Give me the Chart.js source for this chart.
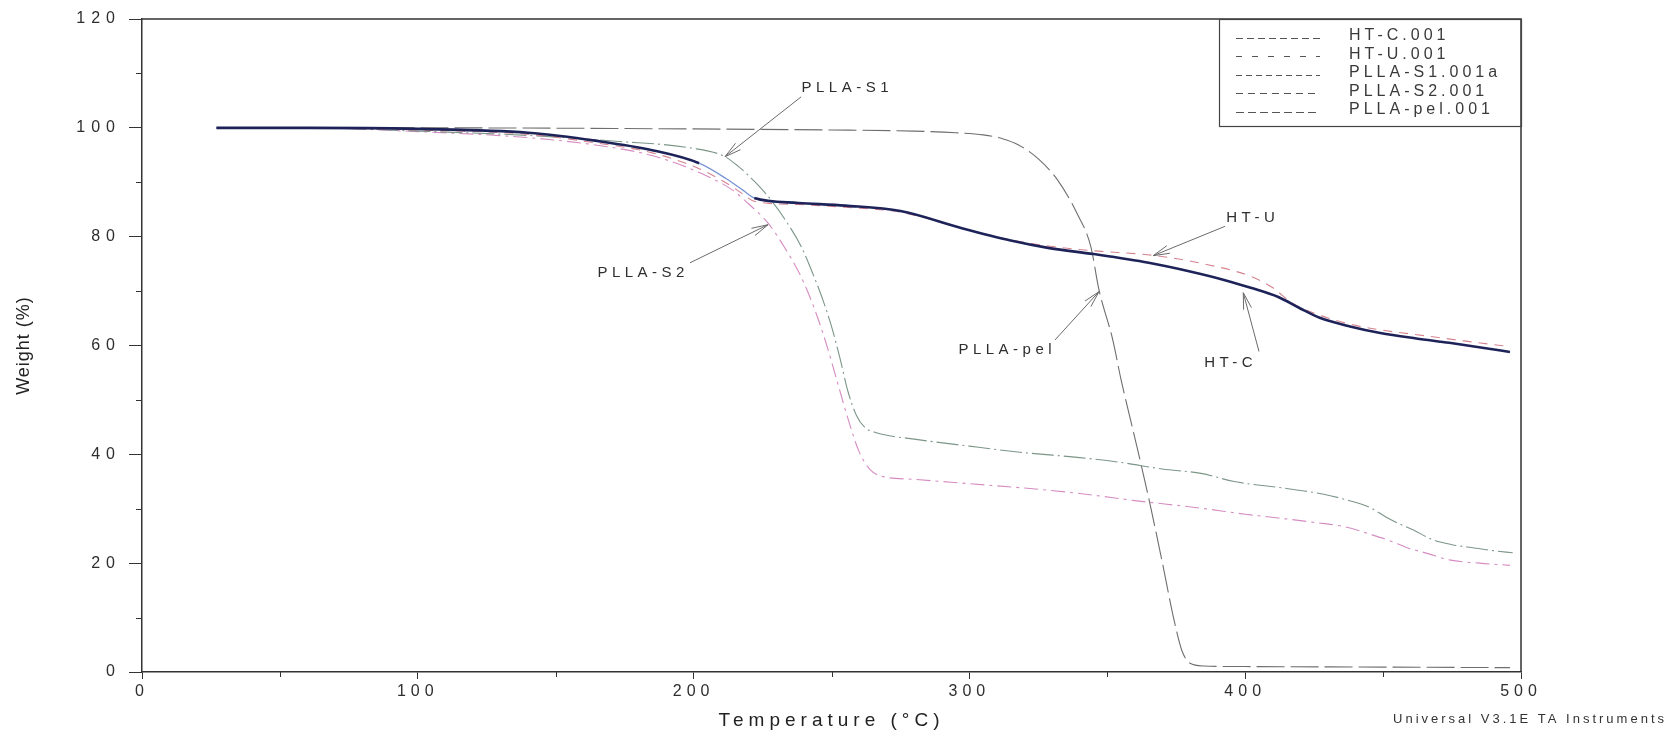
<!DOCTYPE html>
<html>
<head>
<meta charset="utf-8">
<script src="https://cdn.jsdelivr.net/npm/chart.js@4.4.1/dist/chart.umd.min.js"></script>
<style>
  html, body { margin: 0; padding: 0; background: #ffffff; }
  #wrap { width: 1671px; height: 738px; }
</style>
</head>
<body>
<div id="wrap"><canvas id="tga" width="1671" height="738"></canvas></div>
<script>
// TGA weight-loss curves, weight (%) against temperature (°C)
const seriesLabels = ['HT-C.001', 'HT-U.001', 'PLLA-S1.001a', 'PLLA-S2.001', 'PLLA-pel.001'];

const htcTemp   = [27, 60, 100, 140, 165, 185, 202, 212, 218, 222, 238, 255, 275, 297, 315, 329, 345, 365, 380, 392, 402, 412, 420, 427, 438, 449, 462, 474, 486, 496];
const htcWeight = [100, 100, 99.8, 99.1, 97.6, 95.9, 93.5, 90.6, 88.5, 87.1, 86.2, 85.7, 84.7, 81.6, 79.3, 77.9, 76.8, 75.2, 73.6, 72.1, 70.6, 68.9, 66.8, 65.1, 63.5, 62.3, 61.3, 60.5, 59.6, 58.8];

const htuTemp   = [27, 60, 100, 140, 165, 185, 202, 212, 218, 222, 238, 255, 275, 297, 315, 330, 345, 366, 385, 402, 410, 417, 428, 440, 450, 465, 480, 496];
const htuWeight = [100, 100, 99.6, 98.8, 97.2, 95.4, 92.5, 89.8, 87.8, 86.5, 85.9, 85.4, 84.5, 81.6, 79.4, 78.2, 77.4, 76.6, 75.0, 72.7, 70.6, 67.8, 65.4, 63.7, 62.8, 61.8, 60.8, 59.8];

const s1Temp   = [27, 60, 100, 140, 173, 199, 211, 216, 222, 228, 234, 239, 243, 247, 250, 253, 256, 259, 262, 266, 280, 300, 320, 340, 355, 370, 384, 396, 414, 428, 437, 445, 451, 456, 461, 468, 475, 483, 490, 497];
const s1Weight = [100, 100, 99.4, 98.6, 97.5, 96.3, 94.8, 93.0, 90.2, 86.8, 82.5, 78.2, 73.5, 68.2, 63.5, 57.8, 51.5, 47.2, 45.0, 44.0, 42.8, 41.5, 40.3, 39.4, 38.5, 37.3, 36.5, 35.0, 33.8, 32.7, 31.6, 30.3, 28.5, 27.2, 26.1, 24.3, 23.4, 22.8, 22.3, 21.9];

const s2Temp   = [27, 60, 100, 140, 165, 185, 202, 214, 220, 227, 233, 239, 244, 248, 252, 256, 260, 264, 268, 280, 300, 320, 340, 360, 384, 400, 412, 425, 436, 446, 452, 459, 466, 474, 485, 496];
const s2Weight = [100, 100, 99.3, 98.2, 96.8, 94.9, 91.8, 88.6, 86.0, 82.5, 78.0, 72.6, 66.5, 60.5, 53.5, 46.5, 40.5, 37.2, 36.0, 35.4, 34.6, 33.8, 32.8, 31.5, 30.1, 29.0, 28.3, 27.5, 26.7, 25.2, 24.2, 22.8, 21.8, 20.6, 20.0, 19.6];

const pelTemp   = [27, 100, 200, 250, 280, 295, 305, 312, 318, 325, 332, 339, 344, 347, 352, 355, 360, 365, 370, 374, 377, 380, 385, 400, 450, 496];
const pelWeight = [100, 100, 99.8, 99.6, 99.4, 99.1, 98.7, 98.0, 96.8, 94.3, 90.4, 84.3, 78.2, 70.2, 61.0, 53.7, 43.0, 32.0, 20.0, 10.0, 4.0, 1.6, 1.1, 1.0, 0.9, 0.8];

const xTicks = [0, 100, 200, 300, 400, 500];
const yTicks = [0, 20, 40, 60, 80, 100, 120];

// Curve labels with leader arrows (text anchor, arrow tail, arrow tip), in data units
const callouts = [
  { text: 'PLLA-S1',  at: [255, 107.3], from: [239, 105.7], to: [211.4, 94.7] },
  { text: 'PLLA-S2',  at: [181, 73.3],  from: [198.7, 75.2], to: [227, 82.2] },
  { text: 'HT-U',     at: [402, 83.4],  from: [392.7, 81.9], to: [366.6, 76.5] },
  { text: 'PLLA-pel', at: [313, 59.2],  from: [331, 61.0],   to: [347, 69.9] },
  { text: 'HT-C',     at: [394, 56.9],  from: [405, 58.9],   to: [399.3, 69.7] }
];

const pairs = (t, w) => t.map((v, i) => ({ x: v, y: w[i] }));

const styles = [
  { color: '#1d2358', width: 2.6, dash: [], legendDash: [7, 4] },
  { color: '#d5838f', width: 1.1, dash: [9, 7], legendDash: [6, 10] },
  { color: '#7c9688', width: 1.1, dash: [22, 4, 2, 4], legendDash: [6, 4] },
  { color: '#d68cc2', width: 1.1, dash: [14, 5, 3, 5], legendDash: [7, 5] },
  { color: '#6e6e6e', width: 1.1, dash: [28, 6], legendDash: [8, 4] }
];

const series = [
  pairs(htcTemp, htcWeight),
  pairs(htuTemp, htuWeight),
  pairs(s1Temp, s1Weight),
  pairs(s2Temp, s2Weight),
  pairs(pelTemp, pelWeight)
];

const FONT = "'Liberation Sans', Arial, sans-serif";
const INK = '#2e2e2e';

// letter spacing for the axis texts
const textSpacing = {
  id: 'textSpacing',
  afterLayout(chart) {
    const conf = { x: { labels: '5px', title: '5px' }, y: { labels: '6px', title: '1px' } };
    Object.keys(conf).forEach(id => {
      const s = chart.scales[id];
      if (!s || s.__spaced) return;
      s.__spaced = true;
      const c = conf[id];
      const drawLabels = s.drawLabels.bind(s);
      const drawTitle = s.drawTitle.bind(s);
      s.drawLabels = function (area) {
        const ctx = this.ctx; ctx.save(); ctx.letterSpacing = c.labels; drawLabels(area); ctx.restore();
      };
      s.drawTitle = function (area) {
        const ctx = this.ctx; ctx.save(); ctx.letterSpacing = c.title; drawTitle(area); ctx.restore();
      };
    });
  }
};

// plot frame, minor ticks, legend box, curve callouts and footer
const decorations = {
  id: 'decorations',
  afterDraw(chart) {
    const { ctx, chartArea: a, scales: { x, y } } = chart;
    ctx.save();

    // top and right frame
    ctx.strokeStyle = '#333';
    ctx.lineWidth = 1.5;
    ctx.beginPath();
    ctx.moveTo(a.left, a.top); ctx.lineTo(a.right, a.top); ctx.lineTo(a.right, a.bottom);
    ctx.stroke();

    // minor ticks
    ctx.lineWidth = 1;
    ctx.strokeStyle = '#333';
    ctx.beginPath();
    for (let v = 50; v < 500; v += 100) {
      const px = Math.round(x.getPixelForValue(v)) + 0.5;
      ctx.moveTo(px, a.bottom); ctx.lineTo(px, a.bottom + 5);
    }
    for (let v = 10; v < 120; v += 20) {
      const py = Math.round(y.getPixelForValue(v)) + 0.5;
      ctx.moveTo(a.left, py); ctx.lineTo(a.left - 6, py);
    }
    ctx.stroke();

    // legend box in the top right corner
    const boxW = 302, boxH = 107;
    const bx = a.right - boxW, by = a.top;
    ctx.lineWidth = 1.2;
    ctx.strokeStyle = '#444';
    ctx.strokeRect(bx + 0.5, by + 0.5, boxW, boxH);
    ctx.font = '16px ' + FONT;
    ctx.textBaseline = 'middle';
    ctx.textAlign = 'left';
    ctx.letterSpacing = '4px';
    seriesLabels.forEach((lab, i) => {
      const ry = by + 18.5 + i * 18.6;
      ctx.strokeStyle = '#555';
      ctx.lineWidth = 1;
      ctx.setLineDash(styles[i].legendDash);
      ctx.beginPath();
      ctx.moveTo(bx + 17, Math.round(ry) + 0.5);
      ctx.lineTo(bx + 101, Math.round(ry) + 0.5);
      ctx.stroke();
      ctx.setLineDash([]);
      ctx.fillStyle = '#3a3a3a';
      ctx.fillText(lab, bx + 130, ry - 2);
    });

    // callouts
    ctx.font = '15px ' + FONT;
    ctx.letterSpacing = '4.5px';
    ctx.textAlign = 'center';
    ctx.fillStyle = INK;
    callouts.forEach(c => {
      const tx = x.getPixelForValue(c.at[0]), ty = y.getPixelForValue(c.at[1]);
      ctx.fillText(c.text, tx + 2, ty);
      const x0 = x.getPixelForValue(c.from[0]), y0 = y.getPixelForValue(c.from[1]);
      const x1 = x.getPixelForValue(c.to[0]), y1 = y.getPixelForValue(c.to[1]);
      ctx.strokeStyle = '#6a6a6a';
      ctx.lineWidth = 1;
      ctx.beginPath();
      ctx.moveTo(x0, y0); ctx.lineTo(x1, y1);
      const ang = Math.atan2(y0 - y1, x0 - x1);
      const len = 17, spread = 0.24;
      ctx.moveTo(x1, y1); ctx.lineTo(x1 + len * Math.cos(ang + spread), y1 + len * Math.sin(ang + spread));
      ctx.moveTo(x1, y1); ctx.lineTo(x1 + len * Math.cos(ang - spread), y1 + len * Math.sin(ang - spread));
      ctx.stroke();
    });

    // instrument footer
    ctx.font = '13px ' + FONT;
    ctx.letterSpacing = '3px';
    ctx.textAlign = 'right';
    ctx.fillStyle = '#333';
    ctx.fillText('Universal V3.1E TA Instruments', 1667, 719);

    ctx.restore();
  }
};

new Chart(document.getElementById('tga'), {
  type: 'line',
  data: {
    datasets: series.map((pts, i) => ({
      label: seriesLabels[i],
      data: pts,
      borderColor: styles[i].color,
      borderWidth: styles[i].width,
      borderDash: styles[i].dash,
      pointRadius: 0,
      cubicInterpolationMode: 'monotone',
      fill: false,
      segment: i === 0 ? {
        borderColor: ctx => (ctx.p0.parsed.x >= 202 && ctx.p0.parsed.x < 222) ? '#7b95d6' : undefined,
        borderWidth: ctx => (ctx.p0.parsed.x >= 202 && ctx.p0.parsed.x < 222) ? 1.4 : undefined
      } : undefined
    }))
  },
  options: {
    responsive: false,
    animation: false,
    devicePixelRatio: 1,
    layout: { padding: { left: 0, top: 19, right: 150, bottom: 0 } },
    plugins: { legend: { display: false }, tooltip: { enabled: false } },
    scales: {
      x: {
        type: 'linear',
        min: 0, max: 500,
        afterFit: s => { s.height = 66; },
        afterBuildTicks: s => { s.ticks = xTicks.map(v => ({ value: v })); },
        ticks: { font: { family: FONT, size: 16 }, color: INK, padding: 3, maxRotation: 0, autoSkip: false },
        grid: { drawOnChartArea: false, drawTicks: true, tickLength: 7, color: '#333', tickWidth: 1 },
        border: { display: true, color: '#333', width: 1.5 },
        title: { display: true, text: 'Temperature (°C)', font: { family: FONT, size: 19 }, color: '#222', padding: { top: 0, bottom: 6 } }
      },
      y: {
        type: 'linear',
        min: 0, max: 120,
        afterFit: s => { s.width = 142; },
        afterBuildTicks: s => { s.ticks = yTicks.map(v => ({ value: v })); },
        ticks: { font: { family: FONT, size: 16 }, color: INK, padding: 8, autoSkip: false },
        grid: { drawOnChartArea: false, drawTicks: true, tickLength: 13, color: '#333', tickWidth: 1 },
        border: { display: true, color: '#333', width: 1.5 },
        title: { display: true, text: 'Weight (%)', font: { family: FONT, size: 18 }, color: '#222', padding: { top: 13, bottom: 0 } }
      }
    }
  },
  plugins: [textSpacing, decorations]
});
</script>
</body>
</html>
